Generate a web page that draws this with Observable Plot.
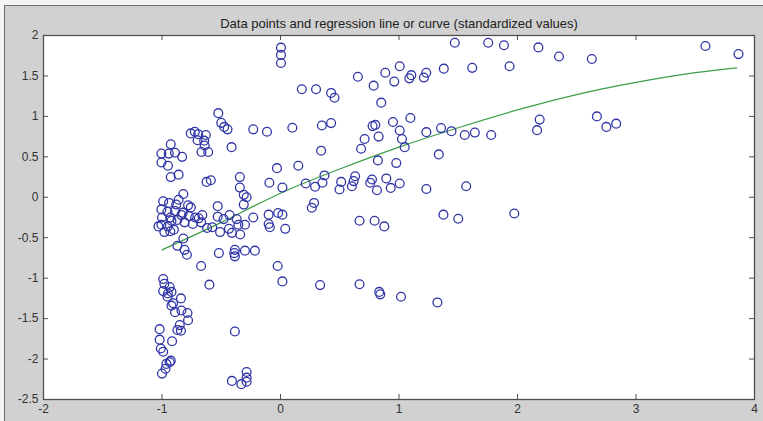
<!DOCTYPE html>
<html><head><meta charset="utf-8">
<script src="https://cdn.jsdelivr.net/npm/d3@7"></script>
<script src="https://cdn.jsdelivr.net/npm/@observablehq/plot@0.6"></script>
<style>
html,body{margin:0;padding:0;background:#f4f4f4;}
#wrap{position:relative;width:763px;height:421px;overflow:hidden;}
#panel{position:absolute;left:4px;top:5px;right:0;bottom:0;background:#d1d1d1;border-left:1.5px solid #707070;border-top:1.5px solid #707070;}
#chart{position:absolute;left:0;top:0;}
</style></head><body>
<div id="wrap"><div id="panel"></div><div id="chart"></div></div>
<script>
const title = "Data points and regression line or curve (standardized values)";
const xTicks = [-2, -1, 0, 1, 2, 3, 4];
const yTicks = [-2.5, -2, -1.5, -1, -0.5, 0, 0.5, 1, 1.5, 2];

const pointX = [
  -0.525, -0.50, -0.475, -0.447, -0.23, -0.114, 0.10, -0.757, -0.723, -0.695,
  -0.63, -0.70, -0.644, -0.64, -0.667, -0.61, -0.413, -0.926, -1.005, -0.943,
  -0.89, -0.83, -1.005, -0.95, -0.926, -0.86, -0.624, -0.588, -0.343, -0.343,
  -0.31, -0.286, -0.03, -0.094, 0.016, 0.15, -0.82, -0.99, -0.94, -0.86,
  -0.78, -0.757, -1.005, -0.954, -0.89, -0.836, -1.0, -0.92, -1.005, -0.81,
  -0.74, -0.69, -0.66, -0.98, -0.93, -1.03, -0.82, -0.87, -0.81, -0.79,
  -0.31, -0.53, -0.53, -0.48, -0.43, -0.37, -0.356, -0.30, -0.23, -0.62,
  -0.576, -0.51, -0.435, -0.41, -0.34, -0.10, -0.10, -0.09, -0.02, 0.016,
  0.04, -0.52, -0.385, -0.39, -0.385, -0.30, -0.216, -0.67, -0.60, -0.024,
  0.016, -0.99, -0.98, -0.935, -0.99, -0.92, -0.954, -0.84, -0.95, -0.906,
  -0.92, -0.89, -0.836, -0.785, -0.78, -0.85, -0.84, -0.87, -1.02, -1.02,
  -0.915, -1.01, -0.99, -0.926, -0.963, -0.935, -0.97, -1.0, -0.385, -0.41,
  -0.33, -0.286, -0.286, -0.286, 0.004, 0.004, 0.004, 1.471, 1.753, 1.886,
  1.006, 0.884, 0.653, 1.104, 1.087, 1.23, 1.21, 1.378, 1.618, 1.933,
  0.786, 0.96, 0.18, 0.30, 0.427, 0.456, 0.85, 0.349, 0.427, 0.777,
  0.80, 0.949, 1.096, 1.006, 0.828, 0.71, 0.68, 1.025, 1.048, 1.231,
  1.355, 1.443, 1.555, 1.64, 1.778, 0.343, 1.336, 0.822, 0.977, 0.371,
  0.354, 0.213, 0.292, 0.512, 0.498, 0.63, 0.617, 0.602, 0.772, 0.757,
  0.814, 0.893, 0.93, 1.006, 1.231, 1.567, 0.283, 0.264, 0.667, 0.794,
  0.876, 1.375, 1.50, 1.973, 0.334, 0.667, 0.833, 0.842, 1.017, 1.324,
  2.176, 2.35, 2.627, 3.586, 3.865, 2.187, 2.165, 2.67, 2.75, 2.833,
  -0.88, -0.825, -0.774, -0.87, -0.95, -0.90, -0.72, -0.67, -0.93
];
const pointY = [
  1.04, 0.92, 0.87, 0.84, 0.84, 0.81, 0.86, 0.79, 0.81, 0.78,
  0.77, 0.705, 0.70, 0.64, 0.56, 0.56, 0.62, 0.655, 0.54, 0.54,
  0.55, 0.50, 0.43, 0.39, 0.25, 0.28, 0.19, 0.21, 0.25, 0.12,
  0.03, 0.0, 0.36, 0.18, 0.12, 0.39, 0.04, -0.05, -0.07, -0.03,
  -0.10, -0.125, -0.15, -0.18, -0.17, -0.22, -0.25, -0.29, -0.34, -0.31,
  -0.33, -0.26, -0.22, -0.43, -0.42, -0.36, -0.51, -0.60, -0.65, -0.71,
  -0.09, -0.11, -0.24, -0.27, -0.22, -0.27, -0.34, -0.34, -0.25, -0.38,
  -0.37, -0.43, -0.39, -0.44, -0.46, -0.215, -0.33, -0.37, -0.195, -0.215,
  -0.39, -0.69, -0.65, -0.69, -0.73, -0.66, -0.66, -0.85, -1.08, -0.85,
  -1.04, -1.01, -1.07, -1.11, -1.16, -1.17, -1.23, -1.25, -1.19, -1.31,
  -1.34, -1.42, -1.40, -1.43, -1.52, -1.58, -1.65, -1.64, -1.63, -1.76,
  -1.78, -1.87, -1.91, -2.02, -2.06, -2.04, -2.12, -2.18, -1.66, -2.27,
  -2.31, -2.16, -2.23, -2.28, 1.85, 1.76, 1.66, 1.91, 1.91, 1.88,
  1.62, 1.54, 1.49, 1.51, 1.47, 1.54, 1.48, 1.59, 1.60, 1.62,
  1.38, 1.43, 1.335, 1.335, 1.29, 1.23, 1.17, 0.887, 0.917, 0.88,
  0.895, 0.93, 0.98, 0.825, 0.75, 0.72, 0.60, 0.72, 0.62, 0.805,
  0.855, 0.817, 0.77, 0.80, 0.77, 0.576, 0.53, 0.456, 0.423, 0.27,
  0.18, 0.17, 0.13, 0.19, 0.096, 0.26, 0.20, 0.137, 0.22, 0.18,
  0.087, 0.233, 0.116, 0.17, 0.103, 0.137, -0.07, -0.13, -0.29, -0.29,
  -0.36, -0.215, -0.265, -0.20, -1.086, -1.075, -1.17, -1.20, -1.23, -1.30,
  1.853, 1.74, 1.71, 1.87, 1.77, 0.96, 0.83, 1.0, 0.87, 0.91,
  -0.09, -0.19, -0.23, -0.28, -0.36, -0.40, -0.25, -0.31, -0.25
];

const curveX = [-1.0, -0.5, 0, 0.5, 1.0, 1.5, 2.0, 2.5, 3.0, 3.5, 3.85];
const curveY = [-0.65, -0.31, 0.05, 0.35, 0.62, 0.86, 1.08, 1.27, 1.42, 1.54, 1.60];

const points = pointX.map((x, i) => ({x, y: pointY[i]}));
const curve = curveX.map((x, i) => ({x, y: curveY[i]}));

const W = 763, H = 421, mL = 43, mR = 9, mT = 35, mB = 22;
const fw = W - mL - mR, fh = H - mT - mB, tk = 5;
const fmt = d => String(d);

const chart = Plot.plot({
  width: W, height: H,
  marginLeft: mL, marginRight: mR, marginTop: mT, marginBottom: mB,
  style: {background: "transparent", fontFamily: "'Liberation Sans', Arial, sans-serif", fontSize: "12px", color: "#333"},
  x: {domain: [-2, 4]},
  y: {domain: [-2.5, 2]},
  marks: [
    Plot.frame({fill: "white", stroke: null}),
    Plot.line(curve, {x: "x", y: "y", stroke: "#3d9e48", strokeWidth: 1.2, curve: "natural"}),
    Plot.dot(points, {x: "x", y: "y", r: 4.4, stroke: "#3035a6", strokeWidth: 1.3, fill: "none"}),
    Plot.tickX(xTicks, {x: d => d, stroke: "#505050", insetTop: fh - tk}),
    Plot.tickX(xTicks, {x: d => d, stroke: "#505050", insetBottom: fh - tk}),
    Plot.tickY(yTicks, {y: d => d, stroke: "#505050", insetRight: fw - tk}),
    Plot.tickY(yTicks, {y: d => d, stroke: "#505050", insetLeft: fw - tk}),
    Plot.frame({stroke: "#505050", strokeWidth: 1.3}),
    Plot.axisX(xTicks, {tickSize: 0, tickPadding: 5, tickFormat: fmt, label: null, fill: "#333"}),
    Plot.axisY(yTicks, {tickSize: 0, tickPadding: 5, tickFormat: fmt, label: null, fill: "#333"}),
    Plot.text([title], {text: d => d, frameAnchor: "top", dy: -17, fontSize: 13, fill: "#222"})
  ]
});
document.getElementById("chart").appendChild(chart);
</script>
</body></html>
